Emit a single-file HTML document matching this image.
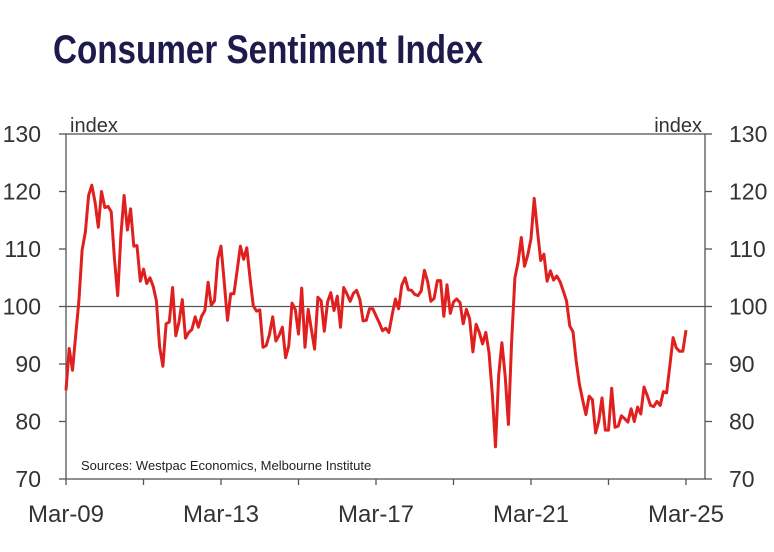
<!DOCTYPE html>
<html><head><meta charset="utf-8"><style>
body{margin:0;background:#fff;}
svg{display:block;font-family:"Liberation Sans Narrow","Liberation Sans",sans-serif;}
</style></head><body>
<svg id="chart" width="774" height="552" viewBox="0 0 774 552">
<text x="53" y="63" font-family="'Liberation Sans Narrow','Liberation Sans',sans-serif" font-weight="bold" font-size="40" fill="#1d1b4c" textLength="430" lengthAdjust="spacingAndGlyphs">Consumer Sentiment Index</text>
<g id="axes"></g>
<g id="series"></g>
<text x="81" y="470" font-size="13" fill="#222">Sources: Westpac Economics, Melbourne Institute</text>
<text x="70" y="132" font-size="20" fill="#333">index</text>
<text x="702" y="132" font-size="20" fill="#333" text-anchor="end">index</text>
</svg>
<script>
const yTicks=[70,80,90,100,110,120,130];
const xTickLabels=["Mar-09","Mar-13","Mar-17","Mar-21","Mar-25"];
const xTickMonths=[0,48,96,144,192];
const sentiment=[85.4,92.7,88.9,95,101,109.8,113,119.3,121.1,118.1,113.8,120,117.2,117.4,116.5,108.4,101.9,112.4,119.3,113.3,117,110.5,110.6,104.4,106.5,104,105,103.5,101,93,89.6,97,97.3,103.3,94.9,97.3,101.2,94.5,95.5,96,98.2,96.4,98.3,99.3,104.2,100.2,101,108.2,110.5,104.3,97.6,102.2,102.2,106.2,110.5,108.2,110.2,104.8,100.1,99.2,99.4,92.9,93.2,95.1,98.2,94,95,96.4,91.1,93.2,100.6,99.5,95.2,103.2,92.9,99.5,96,92.6,101.6,101,95.7,100.8,102.4,99.3,101.8,96.4,103.3,102.2,100.9,102.3,102.8,101.2,97.5,97.6,99.6,99.6,98.4,97.2,95.8,96.2,95.5,98.5,101.3,99.6,103.7,105,102.9,102.8,102.1,101.9,102.7,106.3,104.3,100.9,101.4,104.5,104.5,98.3,103.8,98.8,100.8,101.3,100.7,97,99.5,97.9,92.1,96.9,95.5,93.5,95.5,92,84.8,75.6,88.1,93.7,87.9,79.5,93.8,105,107.7,112,107,109,111.8,118.8,113.1,108,109.1,104.4,106.2,104.6,105.3,104.3,102.7,101,96.6,95.6,90.5,86.5,83.7,81.2,84.4,83.8,78,80.1,84.1,78.5,78.5,85.8,79,79.2,81,80.5,79.9,82.2,80,82.5,81.3,86,84.5,82.8,82.6,83.5,82.8,85.2,85,89.8,94.6,92.8,92.2,92.2,95.9];
const NS="http://www.w3.org/2000/svg";
const L=66,R=705,T=134,B=479;
function xs(m){return L+m*(620/192);}
function ys(v){return B-(v-70)*(B-T)/60;}
function mk(tag,attrs,parent){const e=document.createElementNS(NS,tag);for(const k in attrs)e.setAttribute(k,attrs[k]);parent.appendChild(e);return e;}
const ax=document.getElementById('axes');
let f=mk('rect',{x:L,y:T,width:R-L,height:B-T,fill:'none',stroke:'#555','stroke-width':1.3},ax);


let ref=mk('line',{x1:L,x2:R,y1:ys(100),y2:ys(100),stroke:'#555','stroke-width':1.3},ax);


yTicks.forEach(v=>{
  const y=ys(v);
  mk('line',{x1:L-7,x2:L,y1:y,y2:y,stroke:'#555','stroke-width':1.3},ax);
  mk('line',{x1:R,x2:R+7,y1:y,y2:y,stroke:'#555','stroke-width':1.3},ax);
  let t=mk('text',{x:41,y:y+8,'font-size':23,fill:'#333','text-anchor':'end'},ax);t.textContent=v;
  
  
  let t2=mk('text',{x:729,y:y+8,'font-size':23,fill:'#333'},ax);t2.textContent=v;
  
  
});
for(let m=0;m<=192;m+=24){mk('line',{x1:xs(m),x2:xs(m),y1:B,y2:B+6,stroke:'#555','stroke-width':1.3},ax);}
xTickLabels.forEach((s,i)=>{
  let t=mk('text',{x:xs(xTickMonths[i]),y:522,'font-size':24,fill:'#333','text-anchor':'middle'},ax);t.textContent=s;
  
  
});
const d=sentiment.map((v,i)=>(i?'L':'M')+xs(i).toFixed(1)+' '+ys(v).toFixed(1)).join(' ');
let p=mk('path',{d:d,fill:'none',stroke:'#e0201f','stroke-width':3,'stroke-linejoin':'round'},document.getElementById('series'));


</script>
</body></html>
